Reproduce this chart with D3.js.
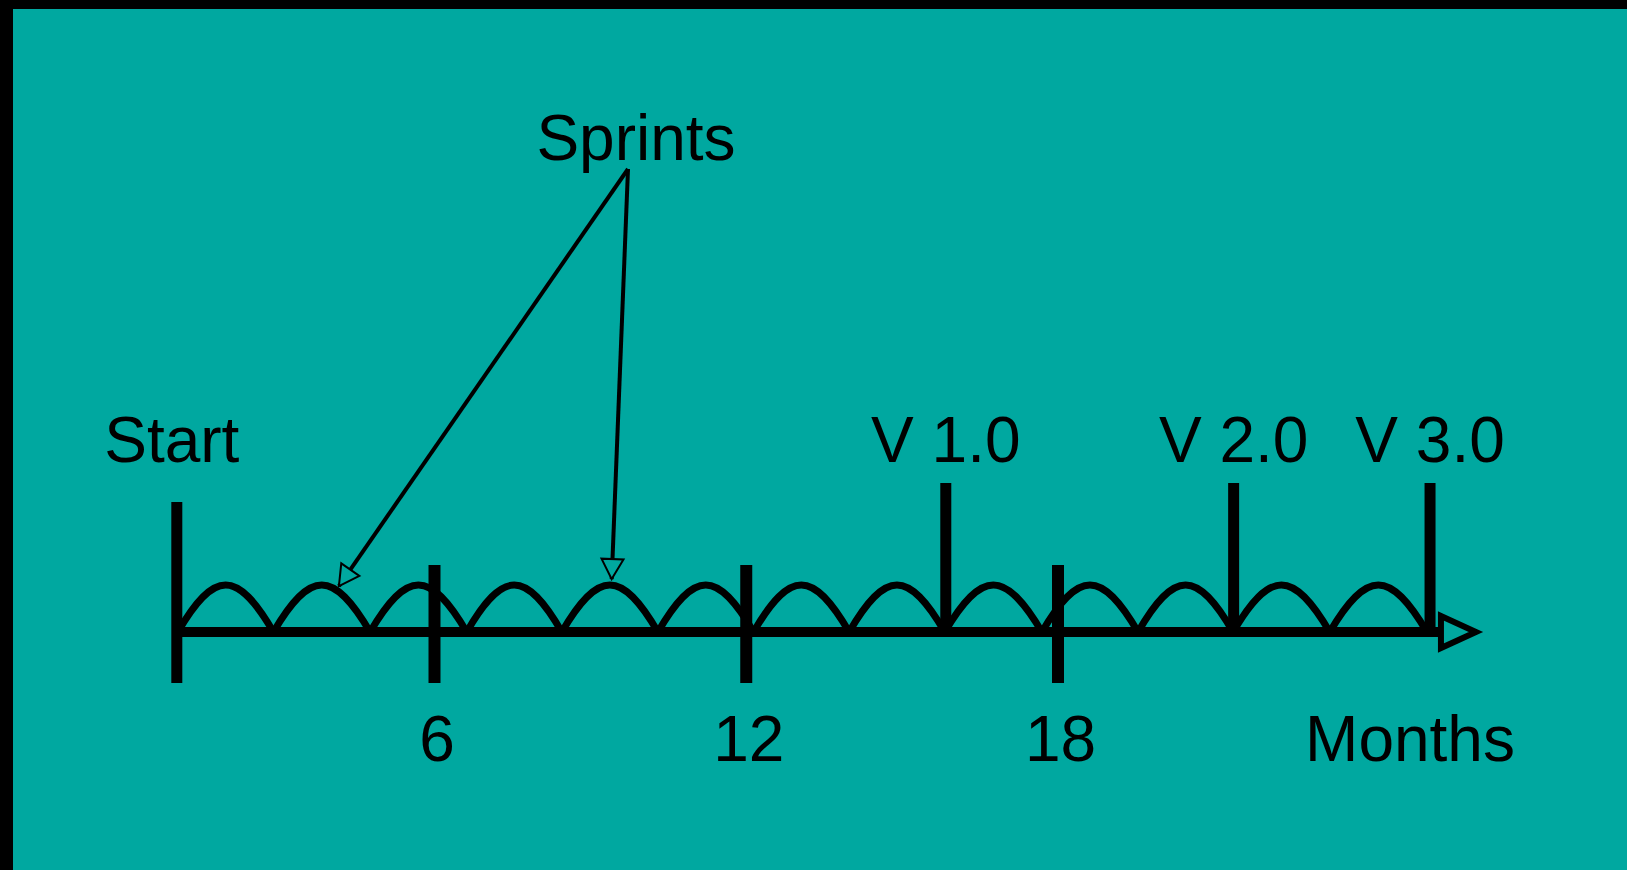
<!DOCTYPE html>
<html>
<head>
<meta charset="utf-8">
<script src="https://cdn.jsdelivr.net/npm/d3@7"></script>
<style>
  html, body { margin: 0; padding: 0; background: #000; }
  svg { display: block; }
  text { font-family: "Liberation Sans", Arial, sans-serif; fill: #000; }
</style>
</head>
<body>
<svg id="chart"></svg>
<script>
// Timeline values, in months
const monthTicks = [6, 12, 18];
const startMonth = 1.05;
const axisEndMonth = 25.38;
const releaseLabels = ['V 1.0', 'V 2.0', 'V 3.0'];
const releaseMonths = [15.85, 21.39, 25.17];
const sprintBounds = [1.07, 2.91, 4.77, 6.63, 8.46, 10.31, 12.15, 13.99, 15.83, 17.70, 19.55, 21.38, 23.24, 25.11];
const pointerMonths = [4.17, 9.42];

const W = 1627;
const H = 870;
const BG = '#00a8a0';
const BASE = 632;       // axis line
const ARCH_H = 47;
const FONT = 64;

const x = d3.scaleLinear().domain([6, 18]).range([434, 1057.5]);

const svg = d3.select('#chart').attr('width', W).attr('height', H);

svg.append('rect').attr('width', W).attr('height', H).attr('fill', '#000');
svg.append('rect').attr('x', 13).attr('y', 9).attr('width', W - 13).attr('height', H - 9).attr('fill', BG);

const defs = svg.append('defs');
defs.append('marker')
  .attr('id', 'head')
  .attr('markerUnits', 'userSpaceOnUse')
  .attr('viewBox', '-24 -14 27 28')
  .attr('markerWidth', 27)
  .attr('markerHeight', 28)
  .attr('refX', 0)
  .attr('refY', 0)
  .attr('orient', 'auto')
  .append('path')
  .attr('d', 'M0,0L-20,-11L-20,11Z')
  .attr('fill', BG)
  .attr('stroke', '#000')
  .attr('stroke-width', 2);

// Sprints (arches)
const sprints = d3.pairs(sprintBounds);
svg.append('g')
  .selectAll('path')
  .data(sprints)
  .join('path')
  .attr('d', ([a, b]) => {
    const x0 = x(a), x1 = x(b), w = x1 - x0;
    const p = d3.path();
    p.moveTo(x0, BASE);
    p.bezierCurveTo(x0 + 0.38 * w, BASE - ARCH_H * 4 / 3, x1 - 0.38 * w, BASE - ARCH_H * 4 / 3, x1, BASE);
    return p.toString();
  })
  .attr('fill', 'none')
  .attr('stroke', '#000')
  .attr('stroke-width', 7);

// Main axis line + open arrow head
svg.append('line')
  .attr('x1', x(startMonth)).attr('x2', x(axisEndMonth))
  .attr('y1', BASE).attr('y2', BASE)
  .attr('stroke', '#000')
  .attr('stroke-width', 10);

const ax = x(axisEndMonth);
svg.append('path')
  .attr('d', `M${ax},${BASE - 16}L${ax + 35},${BASE}L${ax},${BASE + 16}Z`)
  .attr('fill', BG)
  .attr('stroke', '#000')
  .attr('stroke-width', 6)
  .attr('stroke-linejoin', 'miter');

// Month ticks via d3 axis
const monthAxis = d3.axisBottom(x)
  .tickValues(monthTicks)
  .tickSize(118)
  .tickPadding(33)
  .tickFormat(d3.format('d'));

svg.append('g')
  .attr('transform', `translate(0, 565)`)
  .call(monthAxis)
  .call(g => g.select('.domain').remove())
  .call(g => g.selectAll('.tick line').attr('stroke', '#000').attr('stroke-width', 12))
  .call(g => g.selectAll('.tick text')
    .attr('font-size', FONT)
    .attr('font-family', '"Liberation Sans", Arial, sans-serif')
    .attr('fill', '#000')
    .attr('dx', 2.5));

// Start marker
svg.append('line')
  .attr('x1', x(startMonth)).attr('x2', x(startMonth))
  .attr('y1', 502).attr('y2', 683)
  .attr('stroke', '#000')
  .attr('stroke-width', 11);

svg.append('text')
  .attr('x', x(startMonth) - 5)
  .attr('y', 462)
  .attr('text-anchor', 'middle')
  .attr('font-size', FONT)
  .text('Start');

// Releases
const rel = svg.append('g')
  .selectAll('g')
  .data(releaseMonths)
  .join('g');

rel.append('line')
  .attr('x1', d => x(d)).attr('x2', d => x(d))
  .attr('y1', 483).attr('y2', BASE + 5)
  .attr('stroke', '#000')
  .attr('stroke-width', 11);

rel.append('text')
  .attr('x', d => x(d))
  .attr('y', 462)
  .attr('text-anchor', 'middle')
  .attr('font-size', FONT)
  .text((d, i) => releaseLabels[i]);

svg.append('text')
  .attr('x', 1410)
  .attr('y', 761)
  .attr('text-anchor', 'middle')
  .attr('font-size', FONT)
  .text('Months');

// Sprints callout
svg.append('text')
  .attr('x', 636)
  .attr('y', 160)
  .attr('text-anchor', 'middle')
  .attr('font-size', FONT)
  .text('Sprints');

function archTop(m) {
  const s = sprints.find(([a, b]) => m >= a && m <= b);
  const t = (x(m) - x(s[0])) / (x(s[1]) - x(s[0]));
  return BASE - ARCH_H * Math.sin(Math.PI * t) - 6;
}

svg.append('g')
  .selectAll('line')
  .data(pointerMonths)
  .join('line')
  .attr('x1', 628).attr('y1', 169)
  .attr('x2', d => x(d))
  .attr('y2', d => archTop(d))
  .attr('stroke', '#000')
  .attr('stroke-width', 4)
  .attr('marker-end', 'url(#head)');
</script>
</body>
</html>
